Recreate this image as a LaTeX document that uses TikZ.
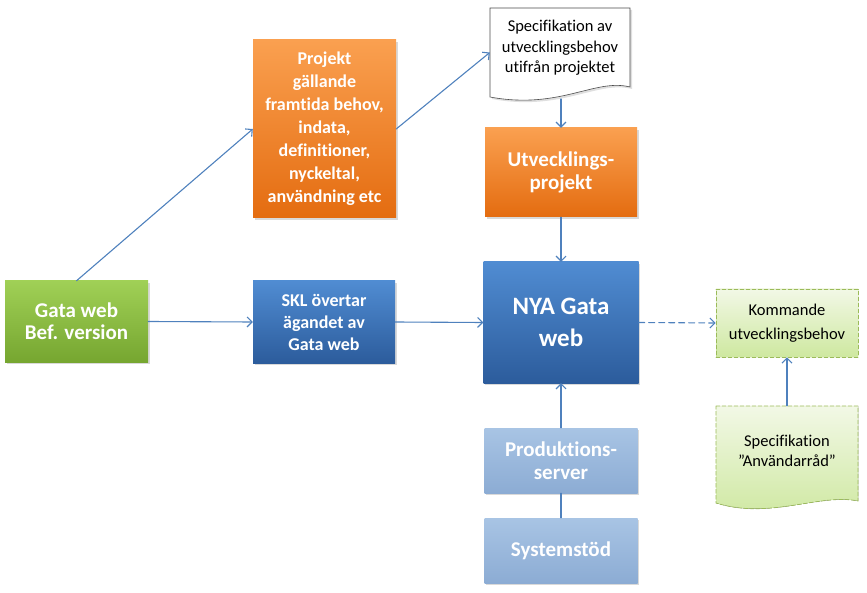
\documentclass[tikz,border=0pt]{standalone}
\usepackage{fontspec}
\setmainfont{Carlito}[Ligatures=NoCommon]
\usetikzlibrary{arrows.meta, calc, shadows}
\definecolor{linec}{RGB}{79,129,189}
\definecolor{greentop}{RGB}{160,208,86}
\definecolor{greenbot}{RGB}{118,166,48}
\definecolor{orangetop}{RGB}{250,160,80}
\definecolor{orangebot}{RGB}{228,108,16}
\definecolor{bluetop}{RGB}{80,140,210}
\definecolor{bluebot}{RGB}{44,92,156}
\definecolor{paletop}{RGB}{168,196,228}
\definecolor{palebot}{RGB}{140,172,212}
\definecolor{limetop}{RGB}{242,248,230}
\definecolor{limebot}{RGB}{206,232,160}
\definecolor{limeedge}{RGB}{155,187,89}

\begin{document}
\begin{tikzpicture}[x=1pt, y=-1pt, >={Straight Barb[length=5pt,width=10pt]}, line cap=round,
  box/.style={rectangle, inner sep=2pt, align=center, text=white,
    font=\bfseries\fontsize{18}{23}\selectfont,
    drop shadow={opacity=0.3, shadow xshift=1.5pt, shadow yshift=-2pt}},
  greenbox/.style={box, top color=greentop, bottom color=greenbot},
  orangebox/.style={box, top color=orangetop, bottom color=orangebot},
  bluebox/.style={box, top color=bluetop, bottom color=bluebot},
  palebox/.style={box, top color=paletop, bottom color=palebot},
  bigtext/.style={font=\bfseries\fontsize{21}{23.5}\selectfont},
  plaintext/.style={align=center, font=\fontsize{16.5}{20.5}\selectfont, text=black},
  flow/.style={->, linec, line width=1.1pt},
  ]
  \useasboundingbox (0,0) rectangle (867,593);

  % left column
  \node[greenbox, bigtext, minimum width=143pt, minimum height=81pt,
    font=\bfseries\fontsize{21}{22}\selectfont] (gata) at (76.5,321.5)
    {Gata web\\Bef. version};
  \node[orangebox, minimum width=143pt, minimum height=178pt] (proj) at (324.5,129)
    {Projekt\\gällande\\framtida behov,\\indata,\\definitioner,\\nyckeltal,\\användning etc};
  \node[bluebox, minimum width=142pt, minimum height=82pt,
    font=\bfseries\fontsize{18}{22}\selectfont] (skl) at (324,322)
    {SKL övertar\\ägandet av\\Gata web};

  % document: specification (white)
  \fill[black!25, opacity=0.5] (492,10) -- (632,10) -- (632,89)
    .. controls (597,80) and (562,112) .. (492,99) -- cycle;
  \filldraw[fill=white, draw=black!70, line width=0.6pt] (490,8) -- (630,8) -- (630,87)
    .. controls (595,78) and (560,110) .. (490,97) -- cycle;
  \node[plaintext, minimum width=140pt, minimum height=89pt] (spec) at (560,52.5) {};
  \node[plaintext] (spectext) at (560,48)
    {Specifikation av\\utvecklingsbehov\\utifrån projektet};
  \coordinate (specS) at (561,99);

  % middle column
  \node[orangebox, bigtext, minimum width=152pt, minimum height=89pt] (utv) at (561,172.5)
    {Utvecklings-\\projekt};
  \node[bluebox, minimum width=155pt, minimum height=121pt,
    font=\bfseries\fontsize{25}{32}\selectfont] (nya) at (561,322.5) {NYA Gata\\web};
  \node[palebox, bigtext, minimum width=153pt, minimum height=65pt] (prod) at (561,460.5)
    {Produktions-\\server};
  \node[palebox, bigtext, minimum width=153pt, minimum height=65pt] (sys) at (561,550.5)
    {Systemstöd};

  % right column
  \node[plaintext, minimum width=142pt, minimum height=68pt, top color=limetop,
    bottom color=limebot, draw=limeedge, dash pattern=on 4pt off 2pt, line width=0.7pt,
    font=\fontsize{16.5}{24}\selectfont]
    (komm) at (787,323) {Kommande\\utvecklingsbehov};
  \filldraw[top color=limetop, bottom color=limebot, draw=limeedge,
    dash pattern=on 4pt off 2pt, line width=0.7pt] (716,406) -- (858,406) -- (858,501)
    .. controls (820,493) and (770,520) .. (716,503) -- cycle;
  \node[plaintext, minimum width=142pt, minimum height=97pt] (anv) at (787,454.5) {};
  \node[plaintext] (anvtext) at (787,451) {Specifikation\\”Användarråd”};

  % connectors
  \draw[flow] (gata.north) -- (proj.west);
  \draw[flow] (proj.east) -- (spec.west);
  \draw[flow] (specS) -- (utv.north);
  \draw[flow] (utv.south) -- (nya.north);
  \draw[flow] (gata.east) -- (skl.west);
  \draw[flow] (skl.east) -- (nya.west);
  \draw[flow, dash pattern=on 6pt off 4pt] (nya.east) -- (komm.west);
  \draw[flow] (anv.north) -- (komm.south);
  \draw[flow] (prod.north) -- (nya.south);
  \draw[linec, line width=1.1pt] (sys.north) -- (prod.south);
\end{tikzpicture}
\end{document}
